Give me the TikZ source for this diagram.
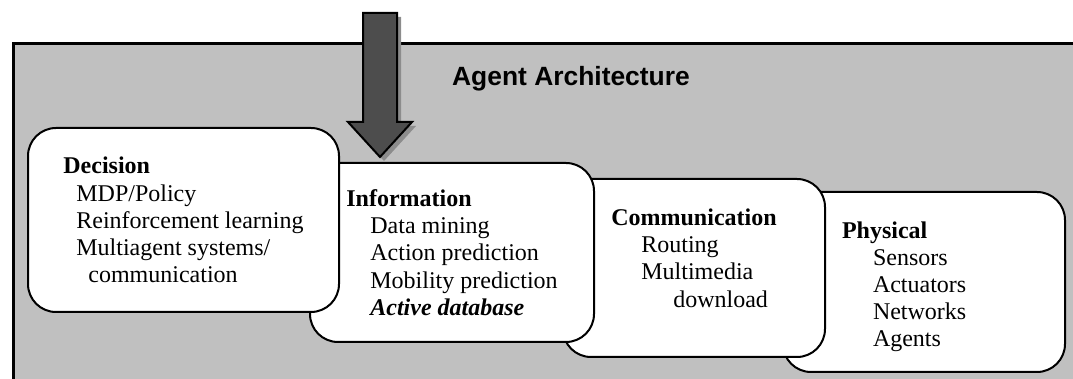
\documentclass[tikz,border=0pt]{standalone}
\usepackage{fontspec}
\setmainfont{Liberation Serif}
\newfontfamily\titlefont{Liberation Sans}
\usetikzlibrary{positioning}
\definecolor{panelgray}{HTML}{C0C0C0}
\definecolor{arrowgray}{HTML}{4D4D4D}
\definecolor{shadowgray}{HTML}{8C8C8C}

\begin{document}
\begin{tikzpicture}[x=0.5pt, y=-0.5pt,
    layer/.style={rectangle, draw, line width=1pt, fill=white, rounded corners=14pt,
        align=left, inner xsep=0pt, inner ysep=0pt, font=\fontsize{12}{13.6}\selectfont}]
    \clip (0,0) rectangle (1073,379);

    % Panel
    \fill[panelgray] (13,44) rectangle (1090,400);
    \draw[line width=1.5pt] (1090,44) -- (13,44) -- (13,400);
    \node (title) [anchor=base, font=\titlefont\bfseries\fontsize{13.2}{15}\selectfont] at (571,86) {Agent Architecture};

    % Layers (back to front)
    \node (physical) [layer, minimum width=141pt, minimum height=90pt, text width=82pt, text height=13pt] at (924,282)
        {\textbf{Physical}\\ \hspace*{15.5pt}Sensors\\ \hspace*{15.5pt}Actuators\\ \hspace*{15.5pt}Networks\\ \hspace*{15.5pt}Agents};
    \node (communication) [layer, minimum width=131pt, minimum height=89pt, text depth=10pt] at (694,268)
        {\textbf{Communication}\\ \hspace*{15pt}Routing\\ \hspace*{15pt}Multimedia\\ \hspace*{31pt}download};
    \node (information) [layer, minimum width=142pt, minimum height=89.5pt] at (452,252.5)
        {\textbf{Information}\\ \hspace*{12pt}Data mining\\ \hspace*{12pt}Action prediction\\ \hspace*{12pt}Mobility prediction\\ \hspace*{12pt}\textbf{\textit{Active database}}};
    \node (decision) [layer, minimum width=155.5pt, minimum height=92pt] at (183.5,220)
        {\textbf{Decision}\\ \hspace*{6.5pt}MDP/Policy\\ \hspace*{6.5pt}Reinforcement learning\\ \hspace*{6.5pt}Multiagent systems/\\ \hspace*{12.5pt}communication};

    % Input arrow
    \fill[shadowgray, shift={(4,4)}] (363,13) -- (397,13) -- (397,122) -- (412,122) -- (380,157) -- (348,122) -- (363,122) -- cycle;
    \draw[fill=arrowgray, line width=1pt] (363,13) -- (397,13) -- (397,122) -- (412,122) -- (380,157) -- (348,122) -- (363,122) -- cycle;
\end{tikzpicture}
\end{document}
